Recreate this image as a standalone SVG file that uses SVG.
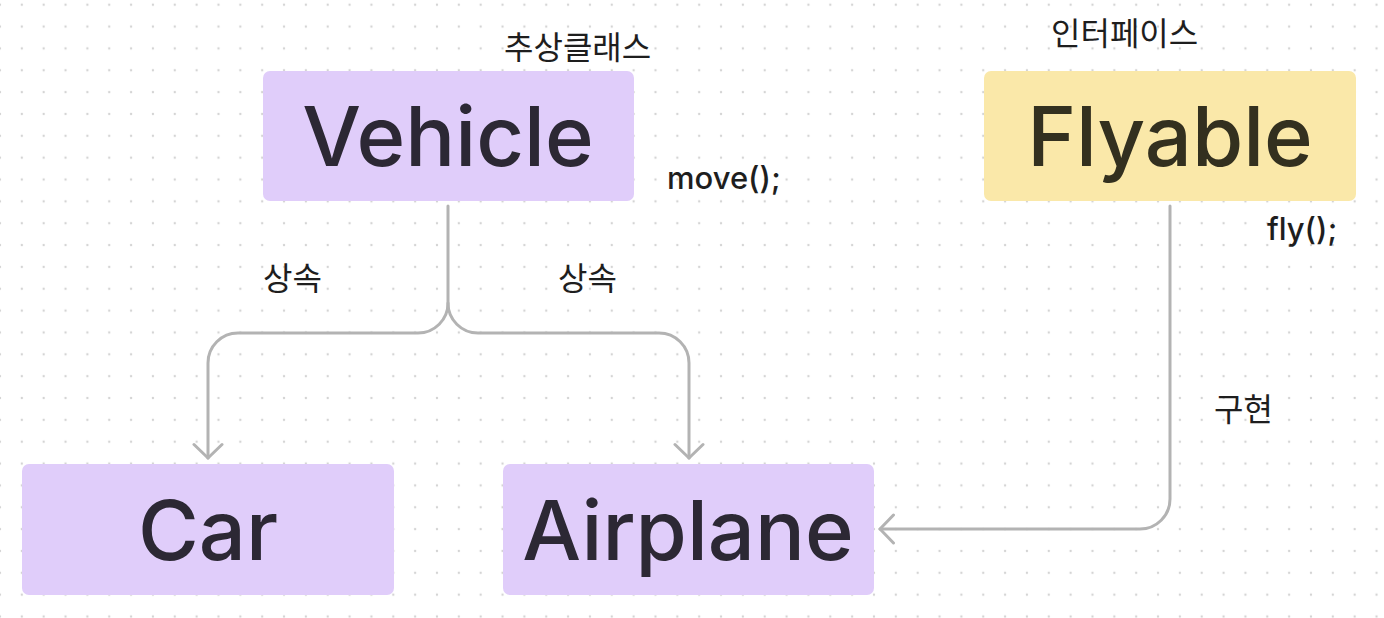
<svg xmlns="http://www.w3.org/2000/svg" width="1384" height="618" viewBox="0 0 1384 618">
<defs>
<pattern id="dots" x="0" y="4.7" width="21.85" height="21.85" patternUnits="userSpaceOnUse">
<circle cx="0" cy="0" r="1.2" fill="#d4d4d4"/>
<circle cx="21.85" cy="0" r="1.2" fill="#d4d4d4"/>
<circle cx="0" cy="21.85" r="1.2" fill="#d4d4d4"/>
<circle cx="21.85" cy="21.85" r="1.2" fill="#d4d4d4"/>
</pattern>
<marker id="arr" viewBox="-16 -16 20 32" markerWidth="20" markerHeight="32" refX="0" refY="0" orient="auto" markerUnits="userSpaceOnUse">
<path d="M-13.5 -14 L0 0 L-13.5 14" fill="none" stroke="#b3b3b3" stroke-width="3" stroke-linecap="round" stroke-linejoin="round"/>
</marker>
<style>
.purple{fill:#e0cdfa}
.yellow{fill:#fae8a9}
.big{font-family:Inter,"Noto Sans",sans-serif;font-size:83px;font-weight:500;text-anchor:middle}
.tp{fill:#2c2834}
.ty{fill:#33301f}
.lbl{font-family:"Noto Sans CJK KR",sans-serif;font-size:32px;fill:#1e1e1e}
.code{font-family:Inter,"Noto Sans",sans-serif;font-size:31px;font-weight:500;fill:#1e1e1e}
.conn{fill:none;stroke:#b3b3b3;stroke-width:3;stroke-linecap:round}
</style>
</defs>
<rect width="1384" height="618" fill="#ffffff"/>
<rect width="1384" height="618" fill="url(#dots)"/>
<g id="connectors">
<path class="conn" d="M448 206 V303 A30 30 0 0 1 418 333 H238 A30 30 0 0 0 208 363 V458" marker-end="url(#arr)"/>
<path class="conn" d="M448 303 A30 30 0 0 0 478 333 H659 A30 30 0 0 1 689 363 V458" marker-end="url(#arr)"/>
<path class="conn" d="M1170 206 V499 A30 30 0 0 1 1140 529 H880" marker-end="url(#arr)"/>
</g>
<g id="vehicle">
<rect class="purple" x="263" y="71" width="371" height="130" rx="7"/>
<text class="big tp" x="448" y="166">Vehicle</text>
</g>
<g id="flyable">
<rect class="yellow" x="984" y="71" width="372" height="130" rx="7"/>
<text class="big ty" x="1170" y="166">Flyable</text>
</g>
<g id="car">
<rect class="purple" x="22" y="464" width="372" height="131" rx="7"/>
<text class="big tp" x="208" y="560">Car</text>
</g>
<g id="airplane">
<rect class="purple" x="503" y="464" width="371" height="131" rx="7"/>
<text class="big tp" x="688" y="560">Airplane</text>
</g>
<g id="labels">
<text class="lbl" x="504" y="59">추상클래스</text>
<text class="lbl" x="1051" y="45">인터페이스</text>
<text class="code" x="667" y="189">move();</text>
<text class="code" x="1267" y="240">fly();</text>
<text class="lbl" x="263" y="290">상속</text>
<text class="lbl" x="558" y="290">상속</text>
<text class="lbl" x="1214" y="421">구현</text>
</g>
</svg>
